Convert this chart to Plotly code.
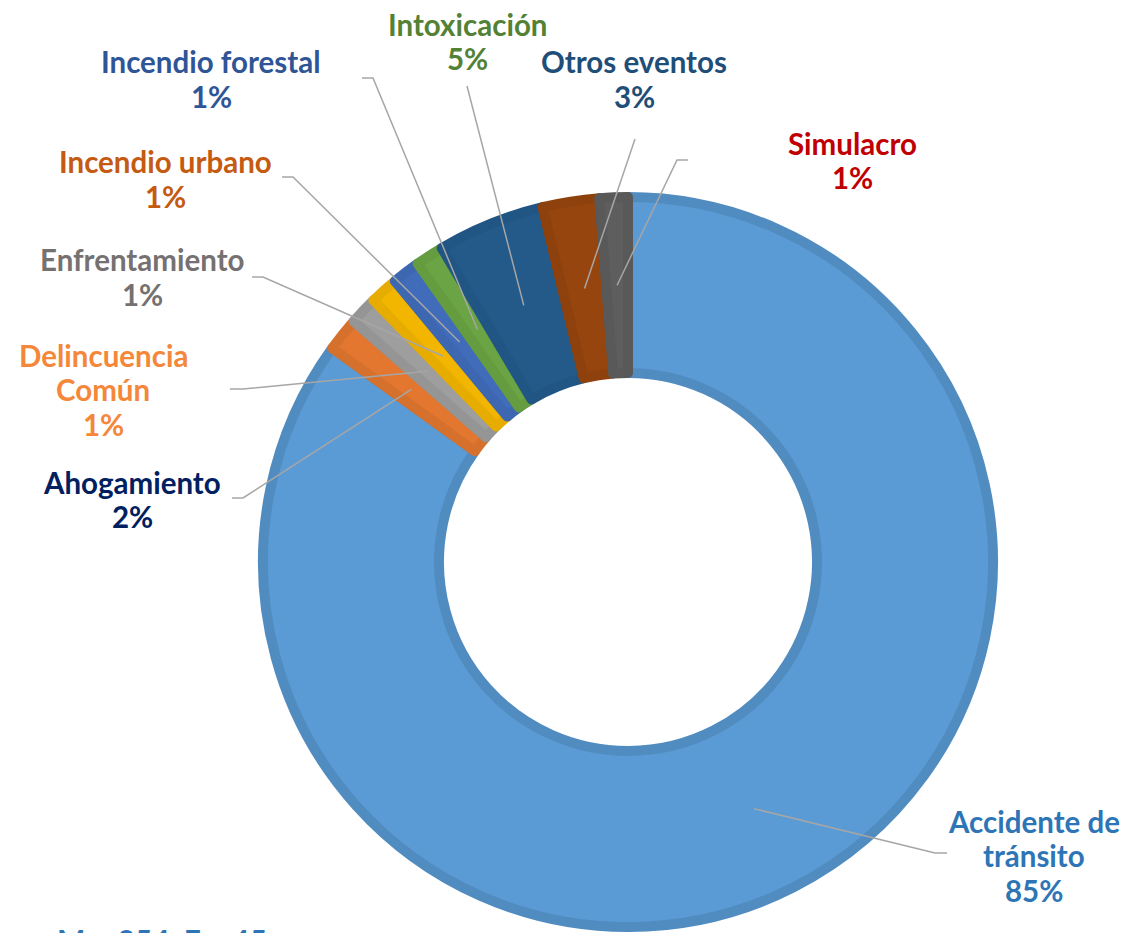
import math

import plotly.graph_objects as go

# --- data ---------------------------------------------------------------
categories = ["Accidente de tránsito", "Ahogamiento", "Delincuencia Común",
              "Enfrentamiento", "Incendio urbano", "Incendio forestal",
              "Intoxicación", "Otros eventos", "Simulacro"]
counts = [339, 6, 5, 5, 5, 5, 19, 10, 5]
sample_note = "M = 354, F = 45"

# --- styles -------------------------------------------------------------
slice_colors = ["#5B9BD5", "#E3772F", "#9E9E9E", "#F2B600", "#416CBA",
                "#6AA444", "#235A8A", "#96450E", "#5E5E5E"]
edge_colors = ["#518CC1", "#D5712C", "#959595", "#E6AD00", "#3D67B0",
               "#659C40", "#215583", "#8E410D", "#595959"]
label_colors = ["#2E75B6", "#002060", "#F4873A", "#767171", "#C55A11",
                "#2F5597", "#538135", "#1F4E79", "#C00000"]

W, H = 1128, 933
PAGE_OFFSET = 8            # browser body margin
CX, CY = 628, 562          # donut centre, px (window coords)
R_OUT, R_IN = 370, 184     # visible radii, px
EDGE = 10                  # slice outline width, px
FONT = "Lato"
FONT_SIZE = 29.5
LINE_STEP = 34.5

# label block position (centre of first text line) and leader-line hook, px
label_layout = {
    "Accidente de tránsito": dict(x=1034, y=821, lines=["Accidente de", "tránsito"],
                                  hook=[(947, 853), (935, 853)]),
    "Ahogamiento": dict(x=132, y=482, lines=["Ahogamiento"],
                        hook=[(232, 498), (243, 498)]),
    "Delincuencia Común": dict(x=103, y=355, lines=["Delincuencia", "Común"],
                               hook=[(230, 389), (243, 389)]),
    "Enfrentamiento": dict(x=142, y=260, lines=["Enfrentamiento"],
                           hook=[(252, 277), (263, 277)]),
    "Incendio urbano": dict(x=165, y=162, lines=["Incendio urbano"],
                            hook=[(282, 177), (293, 177)]),
    "Incendio forestal": dict(x=211, y=62, lines=["Incendio forestal"],
                              hook=[(362, 78), (373, 78)]),
    "Intoxicación": dict(x=467, y=24, lines=["Intoxicación"],
                         hook=[(467, 86)]),
    "Otros eventos": dict(x=634, y=62, lines=["Otros eventos"],
                          hook=[(635, 139)]),
    "Simulacro": dict(x=852, y=143, lines=["Simulacro"],
                      hook=[(688, 160), (677, 160)]),
}


def px_x(x):
    return (x - PAGE_OFFSET) / W


def px_y(y):
    return 1 - (y - PAGE_OFFSET) / H


total = sum(counts)
r_geo = R_OUT - EDGE / 2
hole = (R_IN + EDGE / 2) / r_geo

fig = go.Figure(go.Pie(
    labels=categories,
    values=counts,
    sort=False,
    direction="clockwise",
    rotation=0,
    hole=hole,
    textinfo="none",
    hoverinfo="label+value+percent",
    marker=dict(colors=slice_colors, line=dict(color=edge_colors, width=EDGE)),
    domain=dict(x=[px_x(CX - r_geo), px_x(CX + r_geo)],
                y=[px_y(CY + r_geo), px_y(CY - r_geo)]),
    showlegend=False,
))

annotations = []
shapes = []
r_mid = (R_OUT + R_IN) / 2
cum = 0
for name, value, color in zip(categories, counts, label_colors):
    mid = (cum + value / 2) / total * 2 * math.pi
    cum += value
    spec = label_layout[name]
    pct = f"{round(100 * value / total)}%"
    for i, line in enumerate(spec["lines"] + [pct]):
        annotations.append(dict(
            x=px_x(spec["x"]), y=px_y(spec["y"] + i * LINE_STEP),
            xref="paper", yref="paper", xanchor="center", yanchor="middle",
            text=f"<b>{line}</b>", showarrow=False,
            font=dict(family=FONT, size=FONT_SIZE, color=color),
        ))
    # leader line: hook next to the label, then into the middle of the ring
    end = (CX + r_mid * math.sin(mid), CY - r_mid * math.cos(mid))
    pts = spec["hook"] + [end]
    path = "M " + " L ".join(f"{px_x(x):.5f},{px_y(y):.5f}" for x, y in pts)
    shapes.append(dict(type="path", path=path, xref="paper", yref="paper",
                       line=dict(color="#A6A6A6", width=1.5)))

annotations.append(dict(
    x=px_x(55), y=px_y(940), xref="paper", yref="paper",
    xanchor="left", yanchor="middle", text=f"<b>{sample_note}</b>",
    showarrow=False, font=dict(family=FONT, size=30, color="#2E75B6"),
))

fig.update_layout(
    width=W, height=H,
    margin=dict(l=0, r=0, t=0, b=0),
    paper_bgcolor="white",
    plot_bgcolor="white",
    annotations=annotations,
    shapes=shapes,
)

fig.write_html("out.html")
